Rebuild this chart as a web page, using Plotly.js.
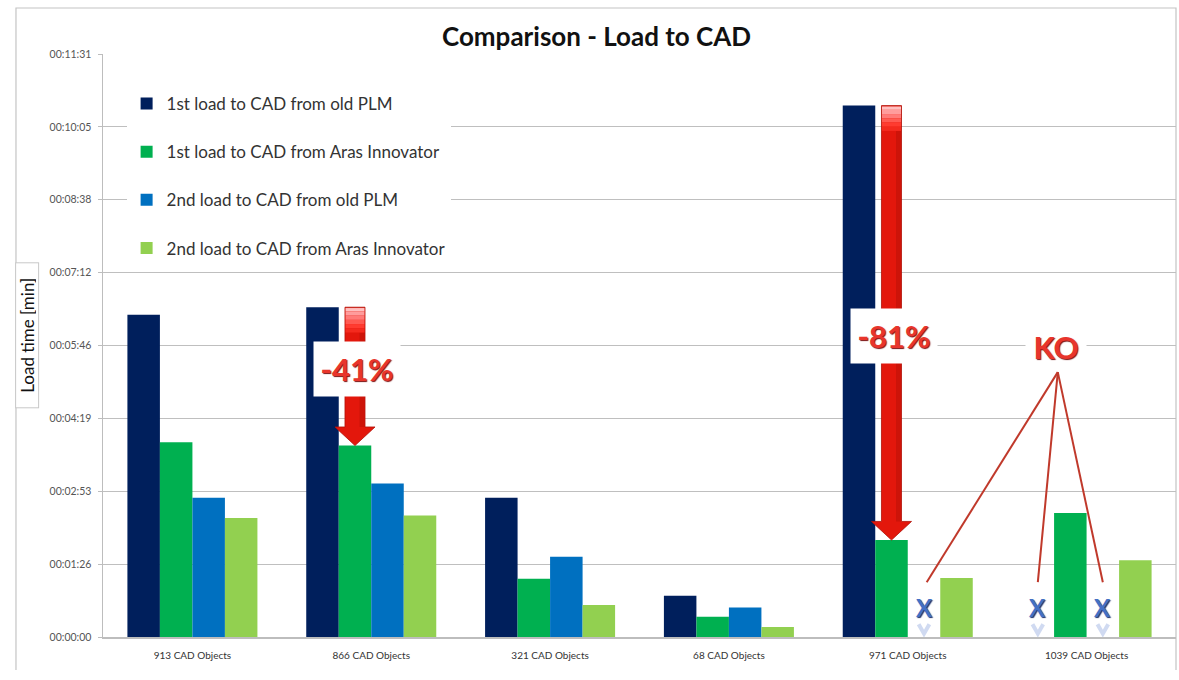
<!DOCTYPE html>
<html>
<head>
<meta charset="utf-8">
<script src="https://cdn.plot.ly/plotly-3.0.1.min.js"></script>
<style>html,body{margin:0;padding:0;background:#fff;}#chart{width:1179px;height:680px;}</style>
</head>
<body>
<div id="chart"></div>
<script>
// ---- data (load times in seconds) ----
var categories = ["913 CAD Objects", "866 CAD Objects", "321 CAD Objects", "68 CAD Objects", "971 CAD Objects", "1039 CAD Objects"];
var seriesNames = ["1st load to CAD from old PLM", "1st load to CAD from Aras Innovator", "2nd load to CAD from old PLM", "2nd load to CAD from Aras Innovator"];
var firstOldPLM   = [382, 391, 165, 49, 630, null];
var firstAras     = [231, 227, 69, 24, 115, 147];
var secondOldPLM  = [165, 182, 95, 35, null, null];
var secondAras    = [141, 144, 38, 12, 70, 91];
var seriesColors  = ["#001f5c", "#00b050", "#0070c0", "#92d050"];
var tickVals  = [0, 86.4, 172.8, 259.2, 345.6, 432, 518.4, 604.8, 691.2];
var tickTexts = ["00:00:00", "00:01:26", "00:02:53", "00:04:19", "00:05:46", "00:07:12", "00:08:38", "00:10:05", "00:11:31"];
var reductionLabels = [{group: 1, text: "-41%"}, {group: 4, text: "-81%"}];

var allSeries = [firstOldPLM, firstAras, secondOldPLM, secondAras];
var FONT = "Lato, 'Open Sans', sans-serif";
var bargap = 0.273;
var slotW = (1 - bargap) / 4;
function slotCenter(g, s) { return g - (1 - bargap) / 2 + slotW * (s + 0.5); }

var traces = allSeries.map(function (vals, i) {
  return {
    type: "bar", name: seriesNames[i], x: categories, y: vals,
    marker: {color: seriesColors[i], line: {width: 0}},
    legendgroup: "g" + i, hoverinfo: "skip"
  };
});

var shapes = [];
var annotations = [];

// outer chart frame
shapes.push({type: "path", xref: "paper", yref: "paper", layer: "below",
  path: "M -0.0811,-0.0566 L -0.0811,1.0789 L 1.0,1.0789 L 1.0,-0.0566",
  line: {color: "#c4c4c4", width: 1.2}});

// reduction arrows: from top of old-PLM bar down to top of Aras bar
var topGrad = ["#ffc0c0", "#ff9c9c", "#ff7a78", "#ff5a52", "#ff3b30", "#f42a1e"];
reductionLabels.forEach(function (r) {
  var g = r.group;
  var x = slotCenter(g, 1);
  var yTop = firstOldPLM[g], yTip = firstAras[g];
  var hw = 0.056, hh = 0.112, hH = 22;
  var p = "M " + (x - hw) + "," + yTop + " L " + (x + hw) + "," + yTop +
          " L " + (x + hw) + "," + (yTip + hH) + " L " + (x + hh) + "," + (yTip + hH) +
          " L " + x + "," + yTip + " L " + (x - hh) + "," + (yTip + hH) +
          " L " + (x - hw) + "," + (yTip + hH) + " Z";
  shapes.push({type: "path", xref: "x", yref: "y", layer: "above", path: p,
    fillcolor: "#e3170c", line: {color: "#b01208", width: 0.8}});
  shapes.push({type: "rect", xref: "x", yref: "y", layer: "above",
    x0: x + hw * 0.45, x1: x + hw - 0.004, y0: yTip + hH, y1: yTop - 30,
    fillcolor: "rgba(140,10,0,0.25)", line: {width: 0}});
  topGrad.forEach(function (c, k) {
    var step = 5;
    shapes.push({type: "rect", xref: "x", yref: "y", layer: "above",
      x0: x - hw + 0.003, x1: x + hw - 0.003, y0: yTop - step * (k + 1), y1: yTop - step * k - (k === 0 ? 1 : 0),
      fillcolor: c, line: {width: 0}});
  });
  annotations.push({xref: "x", yref: "y", x: x + 0.012, y: (g === 1 ? 318 : 357),
    text: "<b>" + r.text + "</b>", showarrow: false, bgcolor: "#ffffff",
    width: 82, height: 50, borderpad: 2,
    font: {family: FONT, size: 31, color: "#e8352c", shadow: "1px 1px 1px #7a1010"}});
});

// "KO" marks for missing values
var koX = 4.828, koY = 344;
annotations.push({xref: "x", yref: "y", x: koX, y: koY, text: "<b>KO</b>", showarrow: false,
  bgcolor: "#ffffff", width: 58, height: 36, borderpad: 1,
  font: {family: FONT, size: 31, color: "#e8352c", shadow: "1px 1px 1px #7a1010"}});
allSeries.forEach(function (vals, s) {
  vals.forEach(function (v, g) {
    if (v === null) {
      var xc = slotCenter(g, s);
      annotations.push({xref: "x", yref: "y", x: xc, y: 35, text: "<b>X</b>", showarrow: false,
        font: {family: FONT, size: 24, color: "#4470c4", shadow: "1px 1px 1px #1a2f6a"}});
      // faint reflection of the X
      var d = 0.03;
      shapes.push({type: "path", xref: "x", yref: "y", layer: "above",
        path: "M " + (xc - d) + ",15 L " + xc + ",4 L " + (xc + d) + ",15",
        line: {color: "rgba(120,150,215,0.35)", width: 4}});
      shapes.push({type: "line", xref: "x", yref: "y", layer: "above",
        x0: koX + 0.011, y0: 314, x1: xc + (s === 2 && g === 4 ? 0.015 : 0), y1: 65,
        line: {color: "#c0392b", width: 2}});
    }
  });
});

// y-axis title box
annotations.push({xref: "paper", yref: "paper", x: -0.0711, y: 0.517, xanchor: "center", yanchor: "middle",
  text: "Load time [min]", textangle: -90, showarrow: false, bgcolor: "#ffffff",
  bordercolor: "#c8c8c8", borderwidth: 1, borderpad: 2, height: 18, width: 140,
  font: {family: FONT, size: 17, color: "#111"}});

var layout = {
  width: 1179, height: 680,
  margin: {l: 103, r: 3, t: 54, b: 43},
  paper_bgcolor: "#ffffff", plot_bgcolor: "#ffffff",
  font: {family: FONT, color: "#333"},
  title: {text: "<b>Comparison - Load to CAD</b>", x: 0.506, xref: "container", xanchor: "center",
          y: 0.946, yref: "container", yanchor: "middle",
          font: {family: FONT, size: 26, color: "#111"}},
  barmode: "group", bargap: bargap, bargroupgap: 0,
  showlegend: true,
  legend: {x: 0.022, y: 0.945, xanchor: "left", yanchor: "top", bgcolor: "#ffffff",
           borderwidth: 0, traceorder: "grouped", tracegroupgap: 23,
           font: {family: FONT, size: 17, color: "#333"}},
  xaxis: {type: "category", showgrid: false, showline: true, linecolor: "#bdbdbd", linewidth: 1.5,
          ticks: "", ticklabelstandoff: 8, tickfont: {family: FONT, size: 10, color: "#333"},
          range: [-0.5, 5.5], fixedrange: true},
  yaxis: {range: [0, 691.2], tickvals: tickVals, ticktext: tickTexts,
          showgrid: true, gridcolor: "#bfbfbf", gridwidth: 1.2,
          showline: true, linecolor: "#bdbdbd", linewidth: 1.5,
          ticks: "outside", ticklen: 4, tickcolor: "#bdbdbd", ticklabelstandoff: 4,
          tickfont: {family: FONT, size: 10.5, color: "#555"}, zeroline: false, fixedrange: true},
  shapes: shapes, annotations: annotations
};

Plotly.newPlot("chart", traces, layout, {displayModeBar: false, staticPlot: true});
</script>
</body>
</html>
